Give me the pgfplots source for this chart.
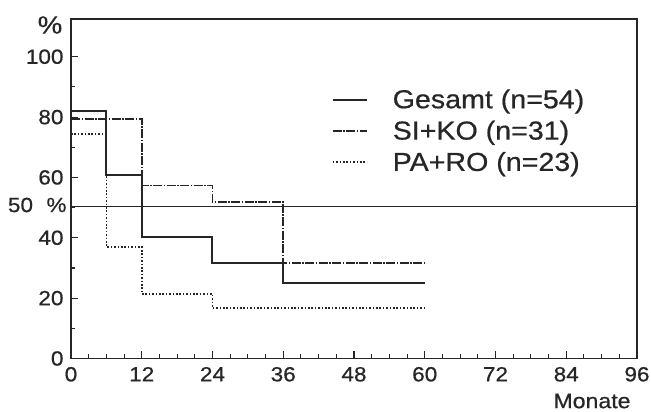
\documentclass[border=0pt]{standalone}
\usepackage{fontspec}
\setmainfont{Liberation Sans}[FakeStretch=1.1, FakeBold=0.6]
\usepackage{pgfplots}
\pgfplotsset{compat=1.18}
\definecolor{ink}{gray}{0.15}
\begin{document}
\begin{tikzpicture}
\useasboundingbox (0,0) rectangle (651pt,412pt);
\begin{axis}[
  at={(71pt,53.5pt)}, anchor=south west,
  scale only axis, width=566pt, height=339.5pt,
  xmin=0, xmax=96, ymin=0, ymax=112.5,
  xtick={0,12,...,96}, ytick={0,20,...,100},
  minor x tick num=3, minor y tick num=1,
  tick pos=left, tick align=inside,
  major tick length=7pt, minor tick length=4pt,
  every tick/.style={ink, line width=1.1pt},
  axis line style={ink, line width=1.6pt},
  /pgf/number format/assume math mode=true,
  ticklabel style={font=\fontsize{20.5}{22}\selectfont, text=ink},
  xticklabel style={yshift=-5pt},
  yticklabel style={xshift=-4pt},
  clip=false,
  legend style={at={(rel axis cs:0.455,0.805)}, anchor=north west, draw=none, fill=none,
    font=\fontsize{26}{29}\selectfont, text=ink, row sep=7pt,
    nodes={inner xsep=12pt},
    /tikz/every odd column/.append style={column sep=13pt}},
  legend cell align=left,
  legend image code/.code={\draw[#1] (0pt,0pt) -- (34pt,0pt);},
]
\addplot[const plot, ink, line width=2pt] coordinates {(0,82.1) (6,60.9) (12,40.4) (24,31.7) (36,25.0) (60,25.0)};
\addlegendentry{Gesamt (n=54)}
\addplot[const plot, ink, line width=1.7pt, dash pattern=on 9pt off 1.5pt on 1.5pt off 1.5pt] coordinates {(0,79.3) (12,57.3) (24,51.8) (36,31.7) (60,31.7)};
\addlegendentry{SI+KO (n=31)}
\addplot[const plot, ink, line width=1.7pt, dash pattern=on 1.6pt off 1.8pt] coordinates {(0,74.5) (6,37.0) (12,21.4) (24,16.7) (60,16.7)};
\addlegendentry{PA+RO (n=23)}
\addplot[ink, line width=1.1pt, forget plot] coordinates {(0,50.5) (96,50.5)};
\end{axis}
\node[text=ink, font=\fontsize{25}{27}\selectfont] at (50pt,387pt) {\%};
\node[text=ink, font=\fontsize{20.5}{22}\selectfont] at (20.5pt,207pt) {50};
\node[text=ink, font=\fontsize{20.5}{22}\selectfont] at (56.5pt,207pt) {\%};
\node[text=ink, font=\fontsize{21}{24}\selectfont] at (592pt,11pt) {Monate};
\end{tikzpicture}
\end{document}
